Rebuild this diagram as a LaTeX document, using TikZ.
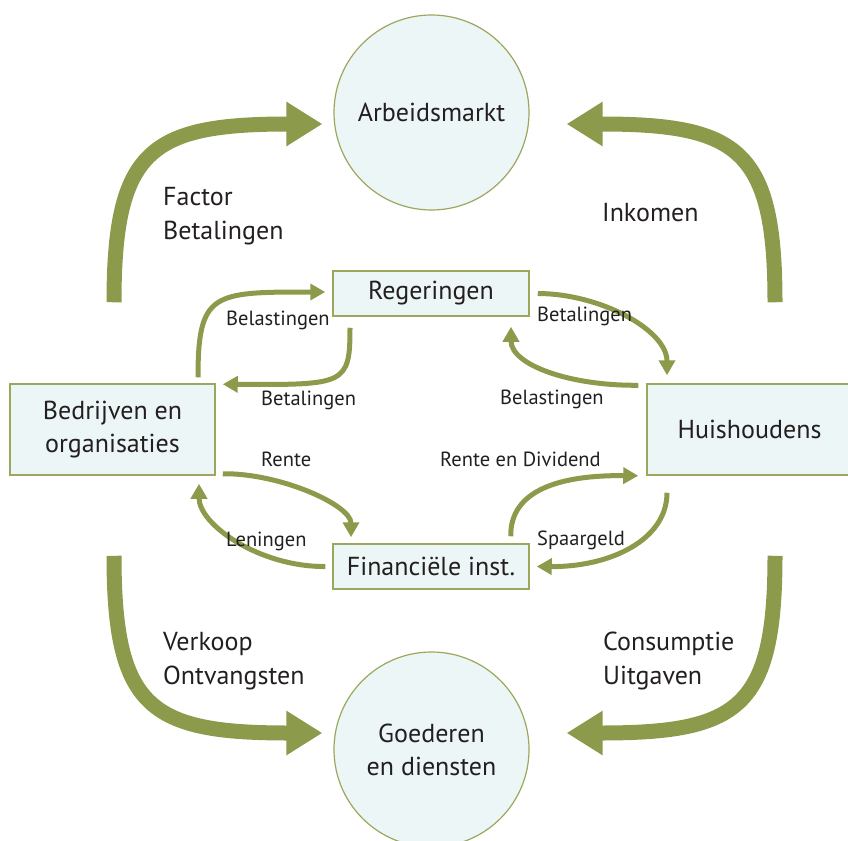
\documentclass[tikz,border=0pt]{standalone}
\usepackage{fontspec}
\setmainfont{PT Sans}
\usetikzlibrary{arrows.meta}
\definecolor{flowgreen}{HTML}{8C9B4B}
\definecolor{boxfill}{HTML}{EDF6F7}
\definecolor{boxline}{HTML}{9AA85C}
\definecolor{inktext}{HTML}{231F20}
\begin{document}
\begin{tikzpicture}[x=1pt, y=-1pt,
  market/.style={circle, draw=boxline, line width=1.2pt, fill=boxfill, minimum size=195pt,
    inner sep=0pt, align=center, text=inktext, font=\fontsize{26}{33}\selectfont},
  sector/.style={rectangle, draw=boxline, line width=1.5pt, fill=boxfill, inner sep=0pt,
    align=center, text=inktext, font=\fontsize{26}{33}\selectfont},
  bigflow/.style={draw=flowgreen, line width=15pt, -{Triangle[length=36pt,width=42pt]}},
  smallflow/.style={draw=flowgreen, line width=5pt, -{Triangle[length=15pt,width=16pt]}},
  biglabel/.style={anchor=base west, inner sep=0pt, align=left, text=inktext,
    font=\fontsize{26}{34}\selectfont},
  smalllabel/.style={anchor=base west, inner sep=0pt, text=inktext,
    font=\fontsize{20.5}{24}\selectfont}]
\useasboundingbox (0,0) rectangle (848,840);

\node[market] (arbeid) at (431.5,112.5) {Arbeidsmarkt};
\node[market] (goederen) at (431.5,749.5) {Goederen\\en diensten};
\node[sector, minimum width=196pt, minimum height=45pt] (regering) at (431,293.5) {Regeringen};
\node[sector, minimum width=196pt, minimum height=45pt] (financ) at (431,566.5) {Financiële inst.};
\node[sector, minimum width=205pt, minimum height=91pt] (bedrijf) at (112.5,429.5) {Bedrijven en\\organisaties};
\node[sector, minimum width=205pt, minimum height=91pt] (huishoud) at (749.5,429.5) {Huishoudens};

\draw[bigflow] ([xshift=1.5pt,yshift=81pt]bedrijf.north) .. controls (114,150) and (150,124) .. ([xshift=-11pt,yshift=-11.5pt]arbeid.west);
\draw[bigflow] ([xshift=25.5pt,yshift=81pt]huishoud.north) .. controls (775,150) and (739,124) .. ([xshift=37pt,yshift=-11.5pt]arbeid.east);
\draw[bigflow] ([xshift=1.5pt,yshift=-80pt]bedrijf.south) .. controls (114,708) and (150,733) .. ([xshift=-11pt,yshift=16.5pt]goederen.west);
\draw[bigflow] ([xshift=25.5pt,yshift=-80pt]huishoud.south) .. controls (775,708) and (739,733) .. ([xshift=37pt,yshift=16.5pt]goederen.east);

\draw[smallflow] ([xshift=85.5pt,yshift=6pt]bedrijf.north) .. controls (198,292) and (213,292) .. ([xshift=-7pt,yshift=1.5pt]regering.west);
\draw[smallflow] ([xshift=-81pt,yshift=-11pt]regering.south) .. controls (350,385) and (345,385) .. ([xshift=7pt,yshift=-1pt]bedrijf.north east);
\draw[smallflow] ([xshift=8pt]regering.east) .. controls (600,293.5) and (667,330) .. ([xshift=-82.5pt,yshift=8pt]huishoud.north);
\draw[smallflow] ([xshift=-8pt,yshift=-2pt]huishoud.north west) .. controls (570,386) and (511,365) .. ([xshift=80pt,yshift=-10pt]regering.south);
\draw[smallflow] ([xshift=7pt,yshift=2pt]bedrijf.south east) .. controls (280,473) and (351,505) .. ([xshift=-80pt,yshift=6pt]financ.north);
\draw[smallflow] ([xshift=-7pt]financ.west) .. controls (260,567) and (199,525) .. ([xshift=86.5pt,yshift=-8pt]bedrijf.south);
\draw[smallflow] ([xshift=-19pt,yshift=7pt]financ.north east) .. controls (510,490) and (560,475) .. ([xshift=-8pt]huishoud.south west);
\draw[smallflow] ([xshift=-82.5pt,yshift=-17pt]huishoud.south) .. controls (667,540) and (610,567) .. ([xshift=7pt]financ.east);

\node[biglabel] (factor) at (163,239) {Factor\\Betalingen};
\node[biglabel] (inkomen) at (602,221) {Inkomen};
\node[biglabel] (verkoop) at (163,684) {Verkoop\\Ontvangsten};
\node[biglabel] (consumptie) at (603,684) {Consumptie\\Uitgaven};

\node[smalllabel] (bel-bedrijf) at (226,325) {Belastingen};
\node[smalllabel] (bet-bedrijf) at (261,405) {Betalingen};
\node[smalllabel] (bet-huis) at (537,321.5) {Betalingen};
\node[smalllabel] (bel-huis) at (500,404) {Belastingen};
\node[smalllabel] (rente) at (261,466) {Rente};
\node[smalllabel] (leningen) at (226,546) {Leningen};
\node[smalllabel] (dividend) at (440,466.5) {Rente en Dividend};
\node[smalllabel] (spaargeld) at (537,545.7) {Spaargeld};
\end{tikzpicture}
\end{document}
